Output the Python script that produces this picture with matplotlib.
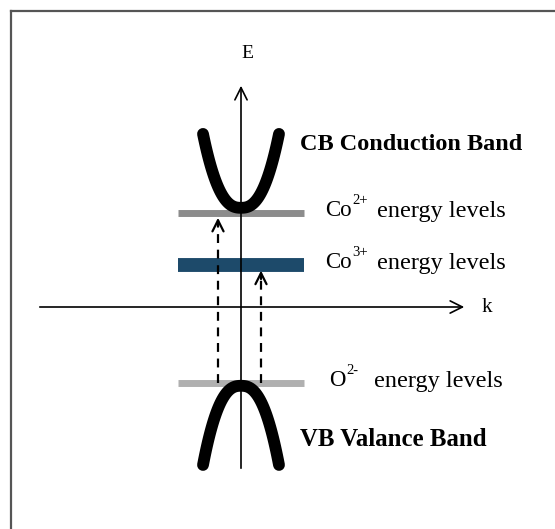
import numpy as np
import matplotlib
matplotlib.use("Agg")
import matplotlib.pyplot as plt
from matplotlib.lines import Line2D

plt.rcParams['font.family'] = ['Liberation Serif', 'DejaVu Serif']

# energy levels (E units, origin where the k and E axes cross)
level_ions = ["Co", "Co", "O"]
level_charges = ["2+", "3+", "2-"]
level_E = [2.35, 1.05, -1.9]
level_colors = ["#8c8c8c", "#1d4a6a", "#b0b0b0"]
level_widths = [5, 10, 5]
level_text_x = [2.1, 2.1, 2.2]
level_gaps = [9, 9, 16]   # px between charge and "energy levels"
level_k = [-1.575, 1.575]

# bands: vertex energy, coefficient and power of |k|
cb_vertex, cb_coef = 2.48, 2.1
vb_vertex, vb_coef = -1.97, -2.25
band_pow = 2.5
band_k = np.linspace(-0.95, 0.95, 80)

# transitions: (k, from E, to E)
transitions = [(-0.575, -1.9, 2.3), (0.5, -1.9, 0.98)]

fig = plt.figure(figsize=(5.55, 5.29), dpi=100)
ax = fig.add_axes([0, 0, 1, 1])
ax.set_xlim(-6.025, 7.85)
ax.set_ylim(-5.55, 7.675)
ax.axis("off")

# frame (top and left edges)
fig.add_artist(Line2D([11/555, 11/555], [0, 1 - 11/529], color="#555555", lw=1.6, transform=fig.transFigure))
fig.add_artist(Line2D([11/555, 1], [1 - 11/529, 1 - 11/529], color="#555555", lw=1.6, transform=fig.transFigure))

# axes with open arrowheads
ax.annotate("", xy=(0, 5.6), xytext=(0, -4.1),
            arrowprops=dict(arrowstyle="->", lw=1.2, color="black", mutation_scale=22))
ax.annotate("", xy=(5.65, 0), xytext=(-5.1, 0),
            arrowprops=dict(arrowstyle="->", lw=1.2, color="black", mutation_scale=22))
ax.text(0.15, 6.35, "E", fontsize=14, ha="center", va="center")
ax.text(6.15, 0.0, "k", fontsize=15, ha="center", va="center")

# energy level bars
for E, c, w in zip(level_E, level_colors, level_widths):
    ax.plot(level_k, [E, E], color=c, lw=w, solid_capstyle="butt", zorder=2)

# conduction and valence bands
ax.plot(band_k, cb_vertex + cb_coef * np.abs(band_k)**band_pow, color="black", lw=8.5,
        solid_capstyle="round", zorder=3)
ax.plot(band_k, vb_vertex + vb_coef * np.abs(band_k)**band_pow, color="black", lw=8.5,
        solid_capstyle="round", zorder=3)

# dashed transitions with open heads
for k, e0, e1 in transitions:
    ax.plot([k, k], [e0, e1 - 0.25], color="black", lw=1.6, ls=(0, (4, 3)), zorder=4)
    ax.annotate("", xy=(k, e1), xytext=(k, e1 - 0.35),
                arrowprops=dict(arrowstyle="->", lw=1.6, color="black", mutation_scale=20), zorder=4)

# labels
ax.text(1.47, 4.07, "CB Conduction Band", fontsize=17.5, fontweight="bold", ha="left", va="center")
ax.text(1.47, -3.3, "VB Valance Band", fontsize=17.9, fontweight="bold", ha="left", va="center")

fig.canvas.draw()
renderer = fig.canvas.get_renderer()
inv = ax.transData.inverted()
for ion, q, E, x0, gap in zip(level_ions, level_charges, level_E, level_text_x, level_gaps):
    t = ax.text(x0, E + 0.05, ion, fontsize=16.5, ha="left", va="center")
    bb = t.get_window_extent(renderer)
    xs, _ = inv.transform((bb.x1 + 1, 0))
    ts = ax.text(xs, E + 0.3, q, fontsize=10.5, ha="left", va="center")
    bs = ts.get_window_extent(renderer)
    xe, _ = inv.transform((bs.x1 + gap, 0))
    ax.text(xe, E + 0.05, "energy levels", fontsize=17.5, ha="left", va="center")

fig.savefig("out.png", dpi=100, facecolor="white")
